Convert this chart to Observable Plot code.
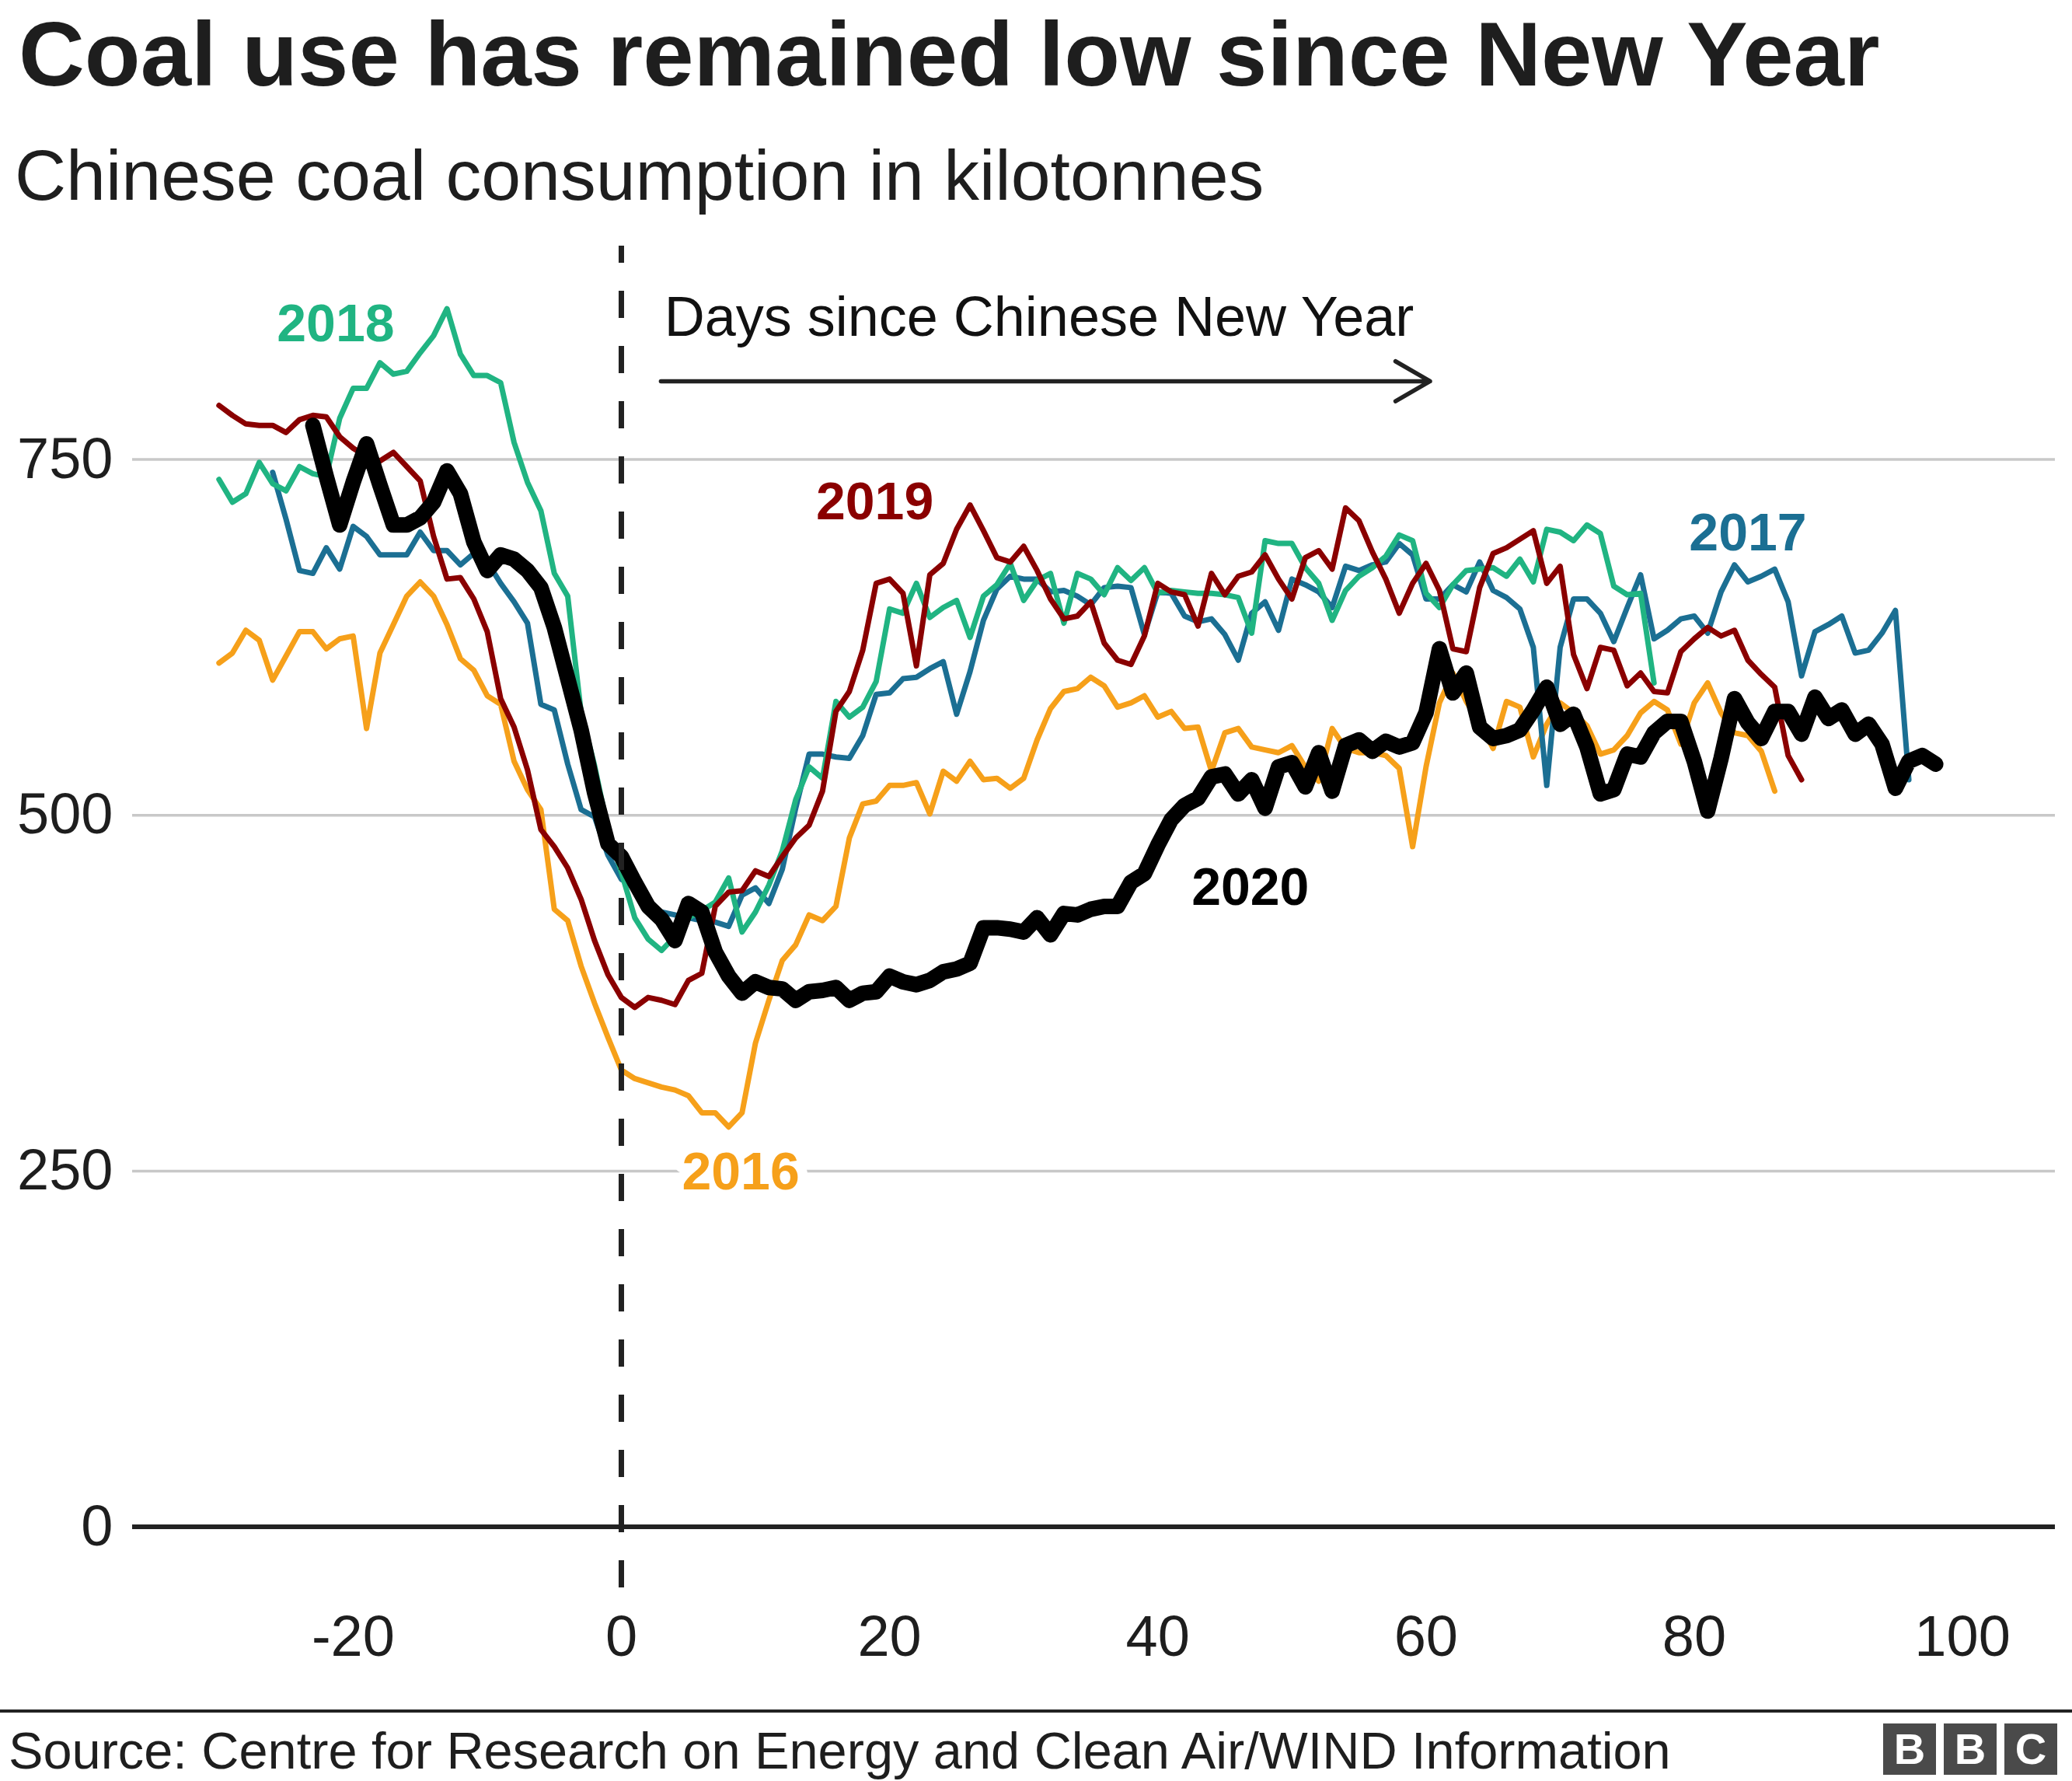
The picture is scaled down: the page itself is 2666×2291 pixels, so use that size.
<!DOCTYPE html>
<html><head><meta charset="utf-8">
<script src="https://cdn.jsdelivr.net/npm/d3@7"></script>
<script src="https://cdn.jsdelivr.net/npm/@observablehq/plot@0.6"></script>
<style>
html,body{margin:0;padding:0;background:#fff;}
#wrap{position:relative;width:2666px;height:2291px;overflow:hidden;font-family:"Liberation Sans",Arial,Helvetica,sans-serif;color:#1e1e1e;}
#title{position:absolute;left:24px;top:11px;font-size:117.5px;font-weight:700;line-height:1;white-space:nowrap;}
#subtitle{position:absolute;left:19px;top:180px;font-size:91.5px;line-height:1;white-space:nowrap;}
#chart{position:absolute;left:0;top:290px;}
#rule{position:absolute;left:0;top:2199px;width:2666px;height:4px;background:#222;}
#source{position:absolute;left:11px;top:2219px;font-size:66.7px;line-height:1;white-space:nowrap;}
#bbc{position:absolute;left:2423px;top:2217px;display:flex;gap:10px;}
#bbc div{width:68px;height:66px;background:#4a4a4a;color:#fff;font-weight:700;font-size:56px;line-height:1;display:flex;align-items:center;justify-content:center;}
</style></head>
<body>
<div id="wrap">
  <div id="title">Coal use has remained low since New Year</div>
  <div id="subtitle">Chinese coal consumption in kilotonnes</div>
  <div id="chart"></div>
  <div id="rule"></div>
  <div id="source">Source: Centre for Research on Energy and Clean Air/WIND Information</div>
  <div id="bbc"><div>B</div><div>B</div><div>C</div></div>
</div>
<script>
// ---- data (kilotonnes per day, by days since Chinese New Year) ----
const years = ["2016", "2017", "2018", "2019", "2020"];
const yearColors = ["#f6a01a", "#1b6f93", "#20b482", "#8a0000", "#000000"];

const start2016 = -30;
const values2016 = [
  607,614,630,623,595,612,629,629,617,624,
  626,561,614,634,654,664,654,634,610,602,
  584,578,538,518,504,434,426,394,368,344,
  321,315,312,309,307,303,291,291,281,291,
  340,370,398,409,430,426,436,484,508,510,
  521,521,523,501,531,524,538,525,526,519,
  526,553,575,587,589,597,591,576,579,584,
  569,573,561,562,531,558,561,548,546,544,
  549,534,524,561,547,544,544,542,533,478,
  534,579,600,580,565,547,580,576,541,564,
  579,572,563,543,546,556,572,580,574,550,
  579,593,572,558,556,545,517
];

const start2017 = -26;
const values2017 = [
  741,708,672,670,688,673,703,696,683,683,
  683,699,686,686,676,684,678,663,650,635,
  578,574,536,504,499,472,455,450,435,432,
  430,428,426,425,422,444,449,438,462,505,
  543,543,541,540,556,585,586,596,597,603,
  608,571,601,637,659,668,666,666,657,658,
  654,648,660,661,660,627,657,656,640,636,
  638,627,609,642,650,630,666,662,657,646,
  675,672,676,678,691,683,652,652,662,657,
  678,658,653,645,618,521,618,652,652,642,
  622,646,669,624,630,638,640,628,657,676,
  664,668,673,650,598,629,634,640,614,616,
  628,644,525
];

const start2018 = -30;
const values2018 = [
  736,720,726,748,733,728,745,740,738,779,
  800,800,818,810,812,825,837,856,824,809,
  809,804,762,734,714,670,654,572,535,490,
  460,428,413,405,415,428,433,439,456,418,
  432,451,475,511,534,526,580,569,576,594,
  645,642,663,639,646,651,625,654,662,677,
  651,665,670,635,670,666,655,674,665,674,
  656,658,657,656,656,655,653,628,693,691,
  691,674,663,637,658,668,674,682,697,693,
  656,646,662,672,673,674,668,680,664,701,
  699,693,704,698,661,655,656,593
];

const start2019 = -30;
const values2019 = [
  788,781,775,774,774,769,778,781,780,766,
  758,752,749,755,745,735,696,666,667,652,
  629,582,562,532,490,478,463,441,412,388,
  372,365,372,370,367,384,389,436,446,447,
  461,457,471,484,493,517,573,587,616,663,
  666,656,605,669,677,701,718,700,681,678,
  689,672,652,638,640,650,621,609,606,626,
  663,657,655,633,670,655,668,671,683,666,
  652,681,686,673,716,707,685,666,642,663,
  677,658,617,615,660,684,688,694,700,663,
  675,613,589,618,616,591,600,587,586,615,
  624,632,626,630,609,599,590,542,525
];

const start2020 = -23;
const values2020 = [
  774,738,704,734,761,732,704,704,709,720,
  742,726,692,672,683,680,672,660,632,596,
  560,516,480,471,453,436,427,412,438,432,
  404,387,375,383,379,378,370,376,377,379,
  370,375,376,387,383,381,384,390,392,396,
  421,421,420,418,428,416,431,430,434,436,
  436,453,459,479,497,507,512,527,529,515,
  525,505,534,537,520,544,517,549,553,545,
  552,548,551,572,617,586,600,562,554,556,
  560,574,590,564,571,548,515,518,543,541,
  558,566,566,538,503,540,582,565,554,573,
  573,557,583,568,574,557,564,550,519,538,
  542,536
];

const xTicks = [-20, 0, 20, 40, 60, 80, 100];
const yTicks = [0, 250, 500, 750];
const gridValues = [250, 500, 750];
const newYearDay = 0;
const axisNote = "Days since Chinese New Year";

// ---- annotation anchors (data space) ----
const labelAnchors = [
  {year: "2016", day: 8.9,   value: 249},
  {year: "2017", day: 84.0,  value: 698},
  {year: "2018", day: -21.3, value: 845},
  {year: "2019", day: 18.9,  value: 720},
  {year: "2020", day: 46.9,  value: 449}
];
const noteAnchor = {day: 3.2, value: 837};
const arrowAnchor = {day1: 2.95, day2: 60.3, value: 805};
const dashedSpan = {from: 900, to: -45};

// ---- build tables ----
const seriesList = [
  {year: "2016", start: start2016, values: values2016},
  {year: "2017", start: start2017, values: values2017},
  {year: "2018", start: start2018, values: values2018},
  {year: "2019", start: start2019, values: values2019}
];
const rows = seriesList.flatMap(s => s.values.map((v, i) => ({year: s.year, day: s.start + i, value: v})));
const rows2020 = values2020.map((v, i) => ({year: "2020", day: start2020 + i, value: v}));

const FONT = '"Liberation Sans", Arial, Helvetica, sans-serif';

const chart = Plot.plot({
  width: 2666,
  height: 1900,
  marginLeft: 170,
  marginRight: 22,
  marginTop: 26,
  marginBottom: 144,
  style: {fontFamily: FONT, color: "#1e1e1e", background: "white", overflow: "visible"},
  x: {domain: [-36.45, 106.92]},
  y: {domain: [-45, 900]},
  color: {domain: years, range: yearColors},
  marks: [
    Plot.ruleY(gridValues, {stroke: "#c8c8c8", strokeWidth: 3.5}),
    Plot.ruleY([0], {stroke: "#222", strokeWidth: 6}),
    Plot.axisY({ticks: yTicks, tickSize: 0, tickPadding: 25, fontSize: 74, label: null, tickFormat: d => String(d)}),
    Plot.axisX({ticks: xTicks, tickSize: 0, tickPadding: 31, fontSize: 74, label: null, tickFormat: d => String(d)}),
    Plot.line(rows, {x: "day", y: "value", z: "year", stroke: "year", strokeWidth: 7, strokeLinejoin: "round"}),
    Plot.line(rows2020, {x: "day", y: "value", stroke: "year", strokeWidth: 20, strokeLinejoin: "round"}),
    Plot.ruleX([newYearDay], {y1: dashedSpan.from, y2: dashedSpan.to, stroke: "#222", strokeWidth: 7, strokeDasharray: "35,36", strokeDashoffset: 13}),
    Plot.arrow([arrowAnchor], {x1: "day1", x2: "day2", y1: "value", y2: "value", stroke: "#222", strokeWidth: 5.5, headLength: 14, headAngle: 60}),
    Plot.text([noteAnchor], {x: "day", y: "value", text: () => axisNote, textAnchor: "start", lineAnchor: "bottom", fontSize: 72, fill: "#111"}),
    Plot.text(labelAnchors.filter(d => d.year === "2016"), {x: "day", y: "value", text: "year", fill: "year", stroke: "white", strokeWidth: 26, fontSize: 68, fontWeight: "bold", lineAnchor: "middle"}),
    Plot.text(labelAnchors.filter(d => d.year !== "2016"), {x: "day", y: "value", text: "year", fill: "year", fontSize: 68, fontWeight: "bold", lineAnchor: "middle"})
  ]
});
document.getElementById("chart").appendChild(chart);
</script>
</body></html>
